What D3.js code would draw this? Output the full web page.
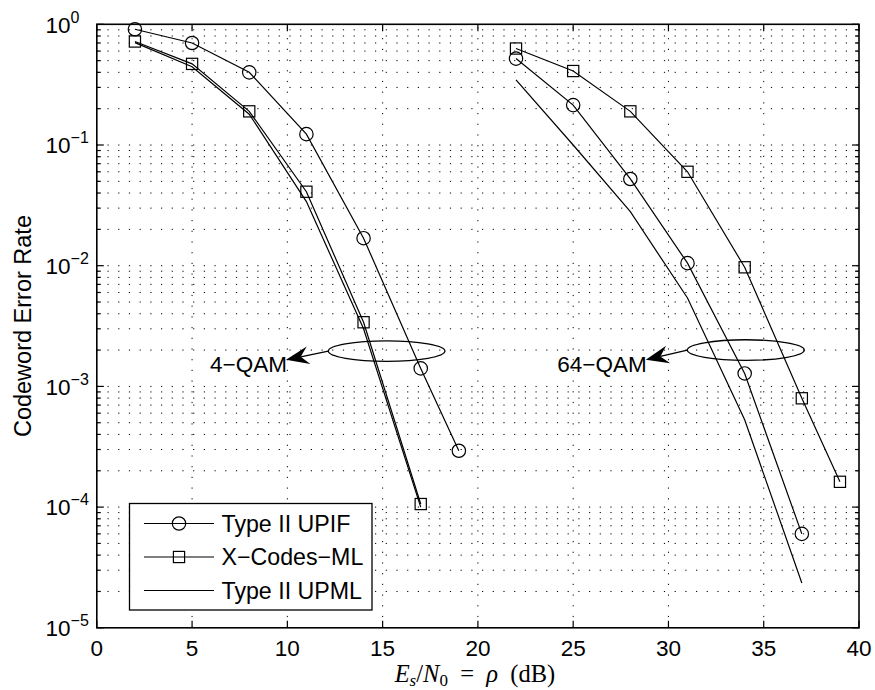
<!DOCTYPE html>
<html>
<head>
<meta charset="utf-8">
<script src="https://cdn.jsdelivr.net/npm/d3@7"></script>
<style>
  html, body { margin: 0; padding: 0; background: #fff; }
  svg { display: block; }
  text { font-family: "Liberation Sans", Arial, Helvetica, sans-serif; fill: #000; }
</style>
</head>
<body>
<svg id="chart" width="875" height="690"></svg>
<script>
// ---------------- data ----------------
const xTicks = [0, 5, 10, 15, 20, 25, 30, 35, 40];
const yDecades = [-5, -4, -3, -2, -1, 0];

// 4-QAM
const upif4X = [2, 5, 8, 11, 14, 17, 19];
const upif4Y = [0.91, 0.70, 0.40, 0.123, 0.0169, 0.00141, 2.93e-4];
const xcode4X = [2, 5, 8, 11, 14, 17];
const xcode4Y = [0.72, 0.47, 0.19, 0.041, 0.0034, 1.06e-4];
const upml4X = [2, 5, 8, 11, 14, 17];
const upml4Y = [0.705, 0.445, 0.18, 0.034, 0.0030, 1.0e-4];

// 64-QAM
const upif64X = [22, 25, 28, 31, 34, 37];
const upif64Y = [0.52, 0.214, 0.0523, 0.0105, 0.00128, 6.0e-5];
const xcode64X = [22, 25, 28, 31, 34, 37, 39];
const xcode64Y = [0.63, 0.41, 0.19, 0.060, 0.0097, 7.97e-4, 1.62e-4];
const upml64X = [22, 25, 28, 31, 34, 37];
const upml64Y = [0.346, 0.10, 0.028, 0.0054, 5.3e-4, 2.35e-5];

const legendLabels = ["Type II UPIF", "X\u2212Codes\u2212ML", "Type II UPML"];
const legendMarkers = ["circle", "square", "none"];

// annotations (data coords): ellipse centre, ellipse half-width (x units), arrow tip, label
const annLabels = ["4\u2212QAM", "64\u2212QAM"];
const annCx = [15.21, 34.06];
const annCy = [1.96e-3, 2.0e-3];
const annRx = [3.06, 3.07];
const annTipX = [9.93, 28.81];
const annTipY = [1.66e-3, 1.66e-3];

// ---------------- layout ----------------
const L = 96.8, R = 859, T = 24.3, B = 627.8;
const svg = d3.select("#chart");
const x = d3.scaleLinear().domain([0, 40]).range([L, R]);
const y = d3.scaleLog().domain([1e-5, 1]).range([B, T]);

// grid
const gridG = svg.append("g").attr("stroke", "#000").attr("stroke-width", 1)
  .attr("stroke-dasharray", "1.2,9.5").attr("fill", "none");
xTicks.filter(t => t > 0 && t < 40).forEach(t => {
  gridG.append("line").attr("x1", x(t)).attr("x2", x(t)).attr("y1", B).attr("y2", T);
});
const yMinor = [];
yDecades.forEach(d => {
  for (let m = 1; m <= 9; m++) {
    const v = m * Math.pow(10, d);
    if (v > 1e-5 && v < 1) yMinor.push(v);
  }
});
yMinor.forEach(v => {
  gridG.append("line").attr("x1", L).attr("x2", R).attr("y1", y(v)).attr("y2", y(v));
});

// ticks (inward, all four sides)
const tickG = svg.append("g").attr("stroke", "#000").attr("stroke-width", 1.2);
xTicks.forEach(t => {
  tickG.append("line").attr("x1", x(t)).attr("x2", x(t)).attr("y1", B).attr("y2", B - 7);
  tickG.append("line").attr("x1", x(t)).attr("x2", x(t)).attr("y1", T).attr("y2", T + 7);
});
yDecades.forEach(d => {
  for (let m = 1; m <= 9; m++) {
    const v = m * Math.pow(10, d);
    if (v < 1e-5 || v > 1) continue;
    const len = m === 1 ? 7 : 4;
    tickG.append("line").attr("x1", L).attr("x2", L + len).attr("y1", y(v)).attr("y2", y(v));
    tickG.append("line").attr("x1", R).attr("x2", R - len).attr("y1", y(v)).attr("y2", y(v));
  }
});

// tick labels
const xAxisLabels = svg.append("g");
xTicks.forEach(t => {
  xAxisLabels.append("text").attr("x", x(t)).attr("y", 655.5)
    .attr("text-anchor", "middle").attr("font-size", 22.5).text(t);
});
yDecades.forEach(d => {
  const tx = svg.append("text").attr("x", 45.5).attr("y", y(Math.pow(10, d)) + 8.3)
    .attr("font-size", 22.5);
  tx.append("tspan").text("10");
  tx.append("tspan").attr("dy", -10).attr("font-size", 16)
    .text(d === 0 ? "0" : "\u2212" + Math.abs(d));
});

// axis titles
svg.append("text").attr("transform", `translate(30.5, ${(T + B) / 2}) rotate(-90)`)
  .attr("text-anchor", "middle").attr("font-size", 23.5).text("Codeword Error Rate");

const xl = svg.append("text").attr("x", (L + R) / 2 - 3).attr("y", 682)
  .attr("text-anchor", "middle").attr("font-size", 24.5)
  .style("font-family", "'Liberation Serif', 'DejaVu Serif', serif");
xl.append("tspan").attr("font-style", "italic").text("E");
xl.append("tspan").attr("font-style", "italic").attr("font-size", 17).attr("dy", 4).text("s");
xl.append("tspan").attr("dy", -4).text("/");
xl.append("tspan").attr("font-style", "italic").text("N");
xl.append("tspan").attr("font-size", 17).attr("dy", 4).text("0");
xl.append("tspan").attr("dy", -4).text("\u2002=\u2002");
xl.append("tspan").attr("font-style", "italic").text("\u03C1");
xl.append("tspan").text("\u2002(dB)");

// series
const line = d3.line().x(d => x(d[0])).y(d => y(d[1]));
const series = [
  { xs: upif4X, ys: upif4Y, marker: "circle" },
  { xs: xcode4X, ys: xcode4Y, marker: "square" },
  { xs: upml4X, ys: upml4Y, marker: "none" },
  { xs: upif64X, ys: upif64Y, marker: "circle" },
  { xs: xcode64X, ys: xcode64Y, marker: "square" },
  { xs: upml64X, ys: upml64Y, marker: "none" }
];
const sG = svg.append("g");
function drawMarker(g, type, cx, cy) {
  if (type === "circle") {
    g.append("circle").attr("cx", cx).attr("cy", cy).attr("r", 6.7)
      .attr("fill", "none").attr("stroke", "#000").attr("stroke-width", 1.2);
  } else if (type === "square") {
    g.append("rect").attr("x", cx - 5.6).attr("y", cy - 5.6).attr("width", 11.2).attr("height", 11.2)
      .attr("fill", "none").attr("stroke", "#000").attr("stroke-width", 1.2);
  }
}
series.forEach(s => {
  const pts = s.xs.map((v, i) => [v, s.ys[i]]);
  sG.append("path").attr("d", line(pts)).attr("fill", "none")
    .attr("stroke", "#000").attr("stroke-width", 1.2);
  pts.forEach(p => drawMarker(sG, s.marker, x(p[0]), y(p[1])));
});

// annotations
const aG = svg.append("g");
annLabels.forEach((lab, i) => {
  const cx = x(annCx[i]), cy = y(annCy[i]);
  const rx = x(annCx[i] + annRx[i]) - cx;
  aG.append("ellipse").attr("cx", cx).attr("cy", cy).attr("rx", rx).attr("ry", 10.3)
    .attr("fill", "none").attr("stroke", "#000").attr("stroke-width", 1.3);
  const sx = cx - rx, sy = cy;
  const tx = x(annTipX[i]), ty = y(annTipY[i]);
  const dx = tx - sx, dy = ty - sy, len = Math.hypot(dx, dy);
  const ux = dx / len, uy = dy / len, nx = -uy, ny = ux;
  const hl = 23, hw = 9, notch = 15;
  aG.append("line").attr("x1", sx).attr("y1", sy).attr("x2", tx - ux * notch).attr("y2", ty - uy * notch)
    .attr("stroke", "#000").attr("stroke-width", 1.3);
  const p = [
    [tx, ty],
    [tx - ux * hl + nx * hw, ty - uy * hl + ny * hw],
    [tx - ux * notch, ty - uy * notch],
    [tx - ux * hl - nx * hw, ty - uy * hl - ny * hw]
  ];
  aG.append("path").attr("d", "M" + p.map(q => q.join(",")).join("L") + "Z").attr("fill", "#000");
  aG.append("text").attr("x", tx + 1).attr("y", ty + 12.5).attr("text-anchor", "end")
    .attr("font-size", 22.5).text(lab);
});

// frame
svg.append("rect").attr("x", L).attr("y", T).attr("width", R - L).attr("height", B - T)
  .attr("fill", "none").attr("stroke", "#000").attr("stroke-width", 1.6);

// legend
const lg = svg.append("g");
lg.append("rect").attr("x", 129.5).attr("y", 503.5).attr("width", 242.5).attr("height", 106.5)
  .attr("fill", "#fff").attr("stroke", "#000").attr("stroke-width", 1.3);
legendLabels.forEach((lab, i) => {
  const ly = 523.5 + i * 33.5;
  lg.append("line").attr("x1", 144).attr("x2", 214).attr("y1", ly).attr("y2", ly)
    .attr("stroke", "#000").attr("stroke-width", 1.2);
  drawMarker(lg, legendMarkers[i], 179, ly);
  lg.append("text").attr("x", 221.5).attr("y", ly + 8.3).attr("font-size", 23.2).text(lab);
});
</script>
</body>
</html>
